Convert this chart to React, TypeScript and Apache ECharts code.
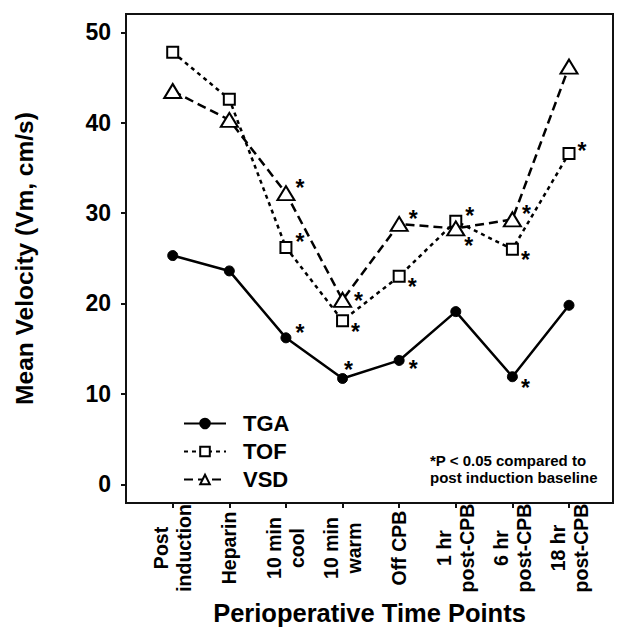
import React, { useEffect, useRef } from "react";
import * as echarts from "echarts";

// ---------- data ----------
const categories = [
  "Post\ninduction",
  "Heparin",
  "10 min\ncool",
  "10 min\nwarm",
  "Off CPB",
  "1 hr\npost-CPB",
  "6 hr\npost-CPB",
  "18 hr\npost-CPB",
];
const tgaValues = [25.3, 23.6, 16.2, 11.7, 13.7, 19.1, 11.9, 19.8];
const tofValues = [47.8, 42.6, 26.2, 18.1, 23.0, 29.1, 26.0, 36.6];
const vsdValues = [43.5, 40.3, 32.2, 20.4, 28.8, 28.3, 29.3, 46.2];
// significance vs post induction baseline (*)
const tgaSig = [false, false, true, true, true, false, true, false];
const tofSig = [false, false, true, true, true, true, true, true];
const vsdSig = [false, false, true, true, true, true, true, false];
const yTicks = [0, 10, 20, 30, 40, 50];
const noteText = "*P < 0.05 compared to\npost induction baseline";

// ---------- style ----------
const FONT = "'Liberation Sans', Arial, sans-serif";
const UR: [number, number] = [14, -5];
const LR: [number, number] = [13, 11];
const tgaStarOffsets: ([number, number] | null)[] = [null, null, [14, -5], [6, -9], [14, 9], null, [13, 11], null];
const tofStarOffsets: ([number, number] | null)[] = [null, null, UR, LR, LR, [14, -5], LR, [13, -2]];
const vsdStarOffsets: ([number, number] | null)[] = [null, null, UR, [16, 1], UR, [13, 18], UR, null];

function buildData(values: number[], sig: boolean[], offsets: ([number, number] | null)[]) {
  return values.map((v, i) => {
    const item: any = { value: [i, v] };
    if (sig[i]) {
      item.label = {
        show: true,
        formatter: "*",
        position: "inside",
        offset: offsets[i] || UR,
        fontSize: 23,
        fontWeight: "bold",
        fontFamily: FONT,
        color: "#000",
      };
    }
    return item;
  });
}

export default function App() {
  const ref = useRef<HTMLDivElement>(null);
  useEffect(() => {
    if (!ref.current) return;
    const chart = echarts.init(ref.current, undefined, { renderer: "svg" });
    const xTickVals = categories.map((_, i) => i);
    chart.setOption({
      animation: false,
      backgroundColor: "#fff",
      grid: {
        left: 126,
        top: 14,
        width: 487,
        height: 489,
        show: true,
        borderColor: "#111",
        borderWidth: 2,
        containLabel: false,
      },
      xAxis: {
        type: "value",
        min: -0.825,
        max: 7.777,
        splitLine: { show: false },
        axisLine: { show: true, onZero: false, lineStyle: { color: "#111", width: 2 } },
        axisTick: { show: true, customValues: xTickVals, length: 5, lineStyle: { color: "#111", width: 2 } },
        axisLabel: {
          customValues: xTickVals,
          formatter: (v: number) => categories[Math.round(v)] ?? "",
          rotate: 90,
          align: "center",
          verticalAlign: "middle",
          margin: 45,
          fontSize: 19.5,
          lineHeight: 23,
          fontWeight: "bold",
          fontFamily: FONT,
          color: "#000",
        },
        name: "Perioperative Time Points",
        nameLocation: "middle",
        nameGap: 97,
        nameTextStyle: { fontSize: 25.5, fontWeight: "bold", fontFamily: FONT, color: "#000" },
      },
      yAxis: {
        type: "value",
        min: -2.07,
        max: 52.02,
        splitLine: { show: false },
        axisLine: { show: true, onZero: false, lineStyle: { color: "#111", width: 2 } },
        axisTick: { show: true, customValues: yTicks, length: 5, lineStyle: { color: "#111", width: 2 } },
        axisLabel: {
          customValues: yTicks,
          margin: 15,
          fontSize: 23,
          fontWeight: "bold",
          fontFamily: FONT,
          color: "#000",
        },
        name: "Mean Velocity (Vm, cm/s)",
        nameLocation: "middle",
        nameRotate: 90,
        nameGap: 89,
        nameTextStyle: { fontSize: 24.5, fontWeight: "bold", fontFamily: FONT, color: "#000" },
      },
      legend: {
        left: 178,
        top: 407,
        orient: "vertical",
        itemWidth: 42,
        itemHeight: 12,
        itemGap: 5,
        selectedMode: false,
        textStyle: {
          fontSize: 22,
          lineHeight: 23,
          fontWeight: "bold",
          fontFamily: FONT,
          color: "#000",
          padding: [0, 0, 0, 12],
        },
        data: ["TGA", "TOF", "VSD"],
      },
      graphic: [
        {
          type: "text",
          left: 430,
          top: 452,
          style: {
            text: noteText,
            font: `bold 15px ${FONT}`,
            lineHeight: 17,
            fill: "#000",
          },
        },
      ],
      series: [
        {
          name: "TGA",
          type: "line",
          data: buildData(tgaValues, tgaSig, tgaStarOffsets),
          symbol: "circle",
          symbolSize: 10,
          lineStyle: { color: "#000", width: 2.5, type: "solid" },
          itemStyle: { color: "#000", borderColor: "#000", borderWidth: 1 },
          z: 3,
        },
        {
          name: "TOF",
          type: "line",
          data: buildData(tofValues, tofSig, tofStarOffsets),
          symbol: "rect",
          symbolSize: 11,
          lineStyle: { color: "#000", width: 2.5, type: [4, 4] },
          itemStyle: { color: "#fff", borderColor: "#000", borderWidth: 2 },
          z: 4,
        },
        {
          name: "VSD",
          type: "line",
          data: buildData(vsdValues, vsdSig, vsdStarOffsets),
          symbol: "triangle",
          symbolSize: [17, 14],
          lineStyle: { color: "#000", width: 2.5, type: [9, 5] },
          itemStyle: { color: "#fff", borderColor: "#000", borderWidth: 2 },
          z: 5,
        },
      ],
    });
    return () => chart.dispose();
  }, []);
  return (
    <div
      ref={ref}
      style={{ position: "fixed", left: 0, top: 0, width: 629, height: 640, background: "#fff" }}
    />
  );
}
